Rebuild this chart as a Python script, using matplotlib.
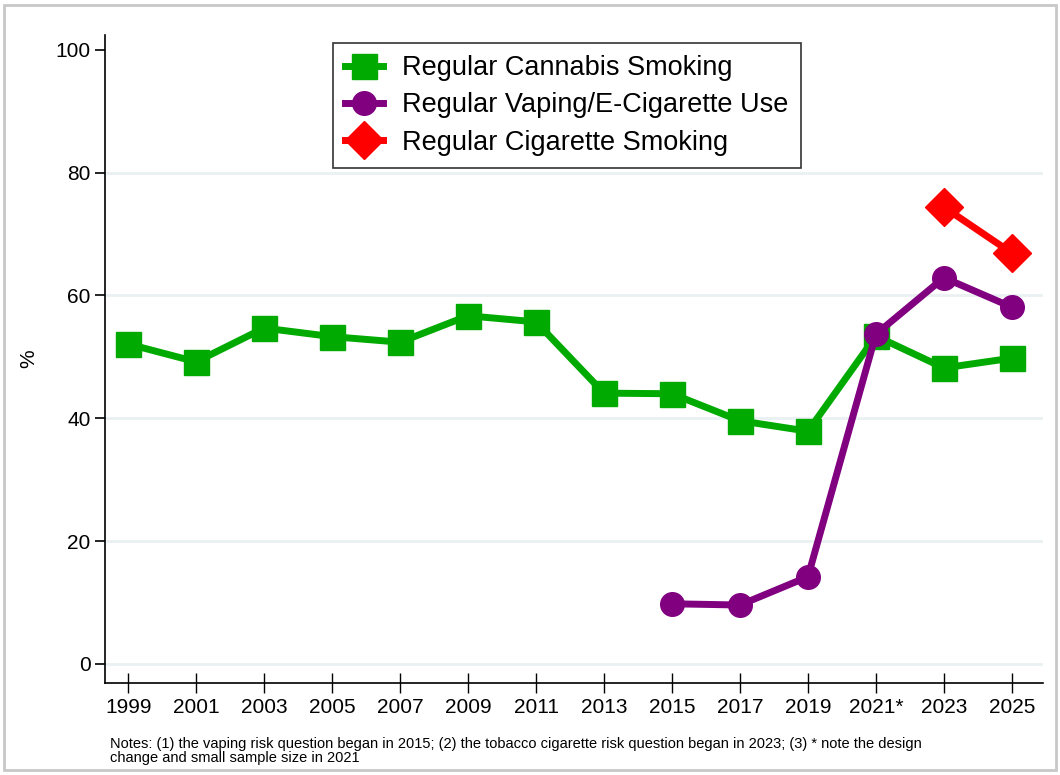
import numpy as np
import matplotlib
matplotlib.use("Agg")
import matplotlib.pyplot as plt
from matplotlib.patches import Rectangle

plt.rcParams['font.family'] = ['Liberation Sans', 'DejaVu Sans']

# Data
years = ["1999", "2001", "2003", "2005", "2007", "2009", "2011",
         "2013", "2015", "2017", "2019", "2021*", "2023", "2025"]
cannabis = [52.1, 49.2, 54.7, 53.3, 52.4, 56.7, 55.7,
            44.1, 44.0, 39.6, 37.9, 53.4, 48.2, 49.8]
vaping_years = ["2015", "2017", "2019", "2021*", "2023", "2025"]
vaping = [9.8, 9.6, 14.2, 53.7, 62.9, 58.1]
cig_years = ["2023", "2025"]
cigarette = [74.4, 66.9]

pos = {y: i for i, y in enumerate(years)}
x_all = np.arange(len(years))
x_vape = [pos[y] for y in vaping_years]
x_cig = [pos[y] for y in cig_years]

fig = plt.figure(figsize=(10.6, 7.75), dpi=100)
ax = fig.add_axes([0.0991, 0.1187, 0.885, 0.836])

# light grid
for g in [0, 20, 40, 60, 80]:
    ax.axhline(g, color='#eaf1f3', lw=2, zorder=0)

ax.plot(x_all, cannabis, color='#00aa00', lw=5, marker='s', ms=18,
        label='Regular Cannabis Smoking', zorder=3)
ax.plot(x_vape, vaping, color='#800080', lw=5, marker='o', ms=17,
        label='Regular Vaping/E-Cigarette Use', zorder=4)
ax.plot(x_cig, cigarette, color='#ff0000', lw=5, marker='D', ms=19,
        label='Regular Cigarette Smoking', zorder=5)

ax.set_xlim(-0.34, 13.46)
ax.set_ylim(-3.1, 102.4)
ax.set_xticks(x_all)
ax.set_xticklabels(years, fontsize=15)
ax.set_yticks([0, 20, 40, 60, 80, 100])
ax.tick_params(axis='y', labelsize=15, direction='out', length=7, width=1.2)
ax.tick_params(axis='x', direction='inout', length=14, width=1, pad=4)
ax.set_ylabel('%', fontsize=15, labelpad=12)

for s in ['top', 'right']:
    ax.spines[s].set_visible(False)
ax.spines['left'].set_linewidth(1.2)
ax.spines['bottom'].set_linewidth(1.2)

leg = ax.legend(loc='upper left', bbox_to_anchor=(0.243, 0.988), fontsize=19.5,
                frameon=True, fancybox=False, edgecolor='black',
                handlelength=1.4, borderpad=0.45, labelspacing=0.42,
                handletextpad=0.7, borderaxespad=0)
leg.get_frame().set_linewidth(1.2)

fig.text(110 / 1060, 1 - 751 / 775,
         "Notes: (1) the vaping risk question began in 2015; (2) the tobacco cigarette risk question began in 2023; (3) * note the design\nchange and small sample size in 2021",
         fontsize=10.5, va='center', ha='left', linespacing=1.0)

fig.patches.append(Rectangle((4 / 1060, 5 / 775), 1052 / 1060, 765 / 775,
                             transform=fig.transFigure, fill=False,
                             edgecolor='#c8c8c8', lw=2))

fig.savefig('out.png', dpi=100)
